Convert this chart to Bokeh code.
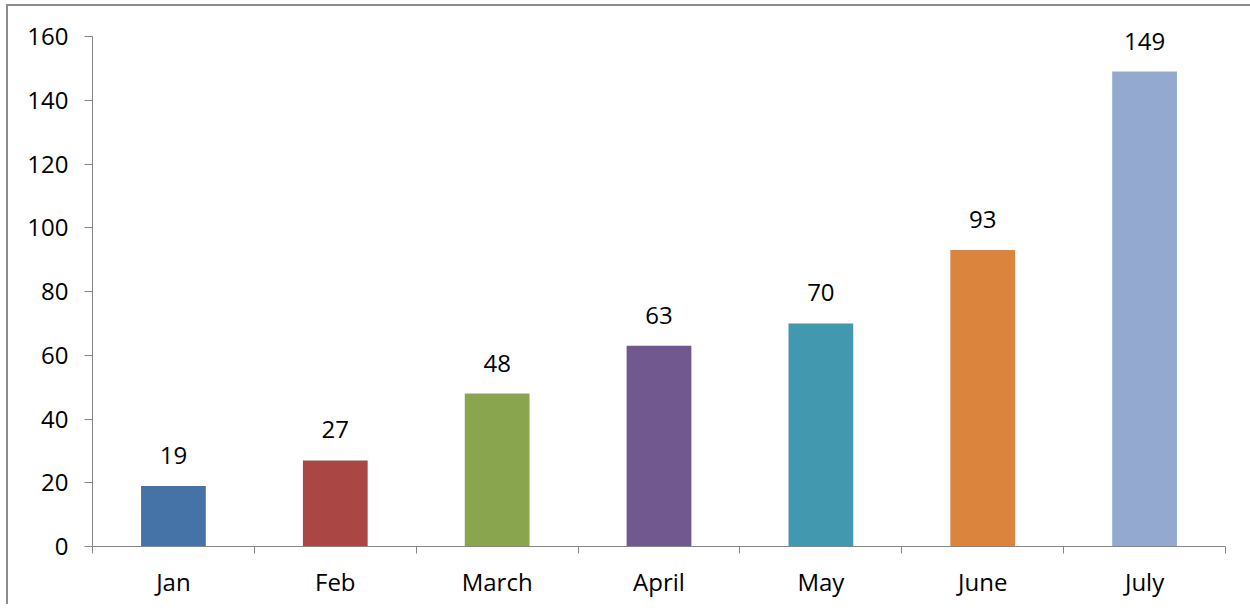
from bokeh.plotting import figure
from bokeh.models import ColumnDataSource, Range1d, FixedTicker, LabelSet
from bokeh.core.properties import value
from bokeh.embed import file_html
from bokeh.resources import INLINE

months = ["Jan", "Feb", "March", "April", "May", "June", "July"]
values = [19, 27, 48, 63, 70, 93, 149]
colors = ["#4572A7", "#AA4643", "#89A54E", "#71588F", "#4198AF", "#DB843D", "#93A9CF"]
y_ticks = [0, 20, 40, 60, 80, 100, 120, 140, 160]

FONT = "Open Sans"

xpos = [i + 0.5 for i in range(len(months))]
src = ColumnDataSource(dict(x=xpos, top=values, color=colors,
                            label=[str(v) for v in values]))

# extra headroom above 160 so value labels are not clipped
p = figure(frame_width=1133, frame_height=540,
           min_border_left=84, min_border_right=25,
           min_border_top=0, min_border_bottom=58,
           x_range=Range1d(0, len(months)), y_range=Range1d(0, 160 * 540 / 510),
           output_backend="svg", toolbar_location=None,
           background_fill_color="white", border_fill_color="white")
p.styles = {"border-top": "2px solid #8c8c8c", "border-left": "2px solid #8c8c8c",
            "margin-top": "4px", "margin-left": "6px"}
p.outline_line_color = None
p.grid.visible = False

p.vbar(x="x", top="top", width=0.4, bottom=0, color="color", line_color=None, source=src)

labels = LabelSet(x="x", y="top", text="label", source=src, y_offset=22,
                  text_align="center", text_baseline="bottom",
                  text_font=value(FONT), text_font_size="24px", text_color="black")
p.add_layout(labels)

xa = p.xaxis[0]
xa.ticker = FixedTicker(ticks=xpos, minor_ticks=list(range(len(months) + 1)))
xa.major_label_overrides = {x: m for x, m in zip(xpos, months)}
xa.major_tick_out = 0
xa.major_tick_in = 0
xa.minor_tick_out = 7
xa.minor_tick_in = 0
xa.minor_tick_line_color = "#868686"
xa.axis_line_color = "#868686"
xa.major_label_standoff = 11
xa.major_label_text_font = FONT
xa.major_label_text_font_size = "24px"
xa.major_label_text_color = "black"

ya = p.yaxis[0]
ya.ticker = FixedTicker(ticks=y_ticks, minor_ticks=[])
ya.bounds = (0, 160)
ya.major_tick_out = 8
ya.major_tick_in = 0
ya.major_tick_line_color = "#868686"
ya.axis_line_color = "#868686"
ya.major_label_standoff = 16
ya.major_label_text_font = FONT
ya.major_label_text_font_size = "24px"
ya.major_label_text_color = "black"

open("out.html", "w").write(file_html(p, INLINE))
